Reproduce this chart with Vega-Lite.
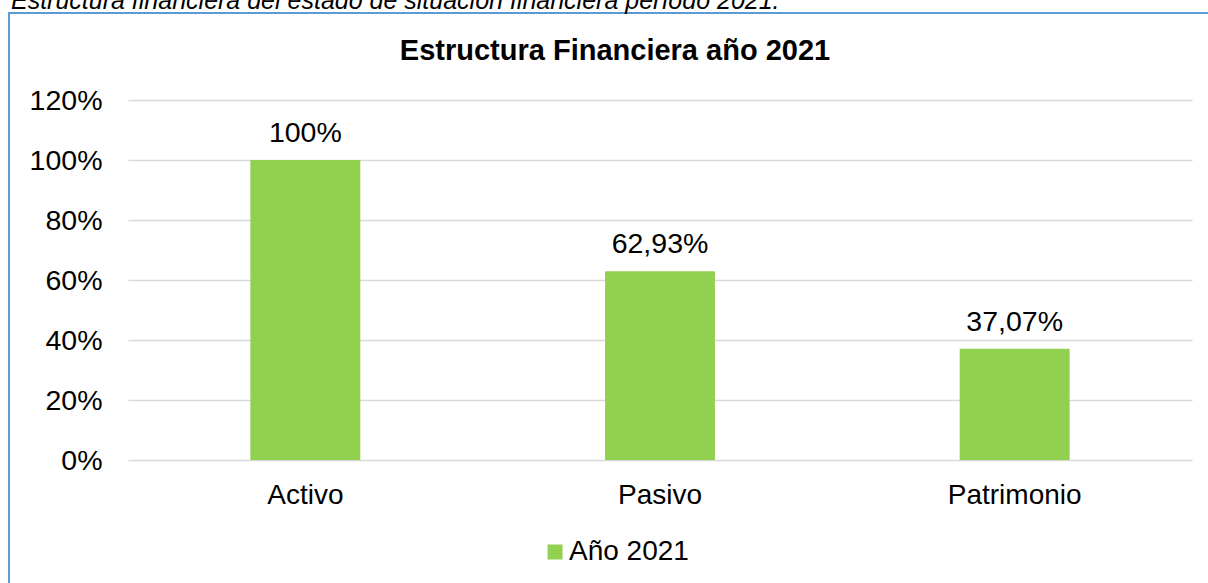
{
  "$schema": "https://vega.github.io/schema/vega-lite/v6.json",
  "width": 1202,
  "height": 573,
  "autosize": {"type": "none"},
  "padding": {"left": 9, "top": 13, "right": -3, "bottom": -3},
  "background": "white",
  "title": {
    "text": "Estructura financiera del estado de situación financiera período 2021.",
    "anchor": "start",
    "frame": "bounds",
    "fontSize": 25,
    "fontStyle": "italic",
    "fontWeight": "normal",
    "color": "#000000",
    "baseline": "alphabetic",
    "offset": 0,
    "dx": 2,
    "dy": 21
  },
  "data": {
    "values": [
      {"cuenta": "Activo", "valor": 1.0, "etiqueta": "100%", "serie": "Año 2021"},
      {"cuenta": "Pasivo", "valor": 0.6293, "etiqueta": "62,93%", "serie": "Año 2021"},
      {"cuenta": "Patrimonio", "valor": 0.3707, "etiqueta": "37,07%", "serie": "Año 2021"}
    ]
  },
  "encoding": {
    "y": {
      "field": "valor",
      "type": "quantitative",
      "scale": {"domain": [0, 1.2], "range": [447, 87], "nice": false, "zero": true},
      "axis": {
        "values": [0, 0.2, 0.4, 0.6, 0.8, 1, 1.2],
        "format": ".0%",
        "title": null,
        "orient": "left",
        "offset": -119,
        "domain": false,
        "ticks": false,
        "labelPadding": 26,
        "labelFontSize": 28.5,
        "labelColor": "#000000",
        "grid": true,
        "gridColor": "#D9D9D9",
        "gridWidth": 1.5
      }
    }
  },
  "layer": [
    {
      "mark": {"type": "bar"},
      "encoding": {
        "x": {
          "field": "cuenta",
          "type": "nominal",
          "sort": null,
          "scale": {"range": [119, 1183], "paddingInner": 0.69, "paddingOuter": 0.345},
          "axis": {
            "orient": "bottom",
            "offset": -126,
            "title": null,
            "domain": false,
            "ticks": false,
            "labelAngle": 0,
            "labelPadding": 21,
            "labelFontSize": 28,
            "labelColor": "#000000",
            "grid": false
          }
        },
        "color": {
          "field": "serie",
          "type": "nominal",
          "scale": {"range": ["#92D050"]},
          "legend": {
            "title": null,
            "orient": "none",
            "legendX": 532,
            "legendY": 525,
            "symbolType": "square",
            "symbolSize": 225,
            "symbolStrokeWidth": 0,
            "labelFontSize": 28,
            "labelColor": "#000000",
            "labelOffset": 0,
            "padding": 0
          }
        }
      }
    },
    {
      "mark": {"type": "text", "baseline": "alphabetic", "dy": -18, "fontSize": 28.5, "color": "#000000"},
      "encoding": {
        "x": {
          "field": "cuenta",
          "type": "nominal",
          "sort": null,
          "axis": {
            "orient": "top",
            "offset": -87,
            "labels": false,
            "ticks": false,
            "domain": false,
            "grid": false,
            "title": "Estructura Financiera año 2021",
            "titleFontSize": 29,
            "titleFontWeight": "bold",
            "titleColor": "#000000",
            "titleBaseline": "alphabetic",
            "titlePadding": 41,
            "titleX": 605.5,
            "titleAlign": "center"
          }
        },
        "text": {"field": "etiqueta"}
      }
    }
  ],
  "resolve": {"axis": {"x": "independent"}},
  "config": {
    "font": "Liberation Sans",
    "view": {"stroke": "#5B9BD5", "strokeWidth": 2}
  }
}
